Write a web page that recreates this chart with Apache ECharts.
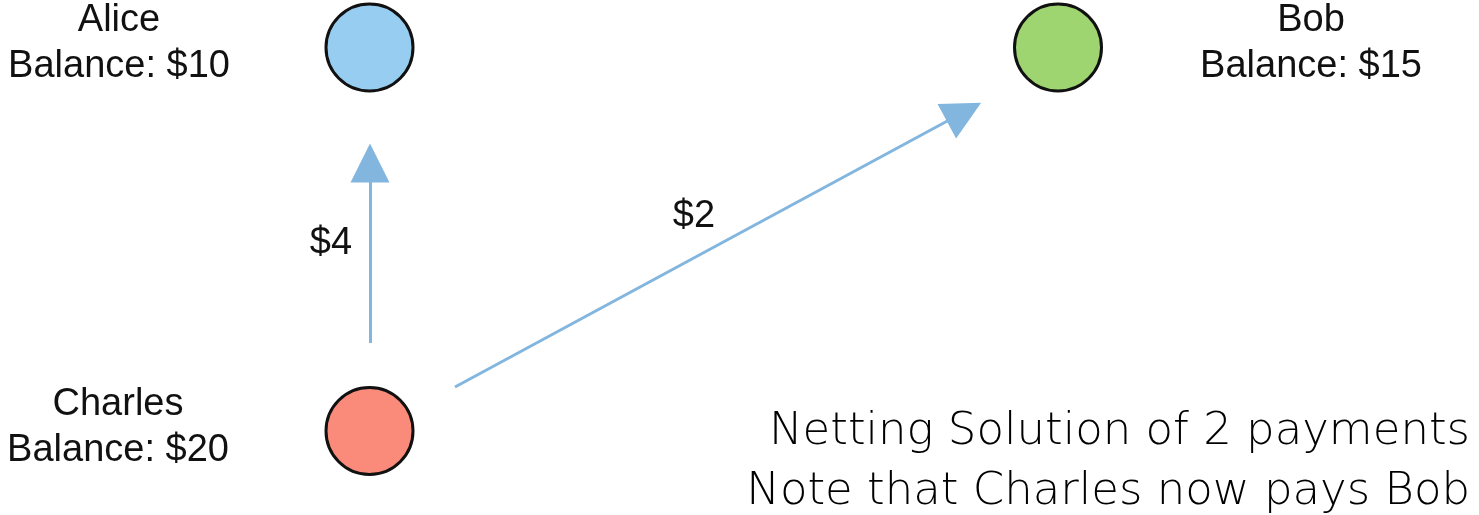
<!DOCTYPE html>
<html>
<head>
<meta charset="utf-8">
<script src="https://cdn.jsdelivr.net/npm/echarts@6/dist/echarts.min.js"></script>
<style>
  html, body { margin: 0; padding: 0; background: #fff; }
  #main { width: 1479px; height: 515px; }
</style>
</head>
<body>
<div id="main"></div>
<script>
// nodes: name, balance, position, fill colour
var nodeNames = ['Alice', 'Bob', 'Charles']
var nodeBalances = [10, 15, 20]
var nodeX = [369.5, 1058, 369.5]
var nodeY = [47.5, 47.5, 431]
var nodeColors = ['#97cdf1', '#9fd571', '#fa8b7b']
// where each node's caption sits
var captionX = [119, 1311, 118]
var captionY = [44, 44, 428]

// payments after netting: tail point, arrow head point, amount, label position
var edgeFrom = [[370, 343], [455, 387]]
var edgeTo = [[370, 163], [964, 112]]
var edgeAmounts = [4, 2]
var edgeLabelPos = [[331, 244], [694, 217]]

var noteLines = ['Netting Solution of 2 payments', 'Note that Charles now pays Bob']

var myChart = echarts.init(document.getElementById('main'))

var option = {
  animation: false,
  grid: { left: 0, right: 0, top: 0, bottom: 0 },
  xAxis: { type: 'value', min: 0, max: 1479, show: false },
  yAxis: { type: 'value', min: 0, max: 515, inverse: true, show: false },
  series: [
    {
      type: 'lines',
      coordinateSystem: 'cartesian2d',
      symbol: ['none', 'path://M12 0L24 39L0 39Z'],
      symbolSize: 39,
      symbolKeepAspect: true,
      lineStyle: { color: '#83b6df', width: 3, opacity: 1 },
      data: edgeFrom.map(function(p, i) {
        return { coords: [p, edgeTo[i]] }
      }),
      z: 1
    },
    {
      type: 'scatter',
      symbol: 'circle',
      symbolSize: 87,
      itemStyle: { borderColor: '#111', borderWidth: 3, opacity: 1 },
      data: nodeNames.map(function(n, i) {
        return { name: n, value: [nodeX[i], nodeY[i]], itemStyle: { color: nodeColors[i] } }
      }),
      z: 3
    },
    {
      type: 'scatter',
      symbolSize: 0,
      itemStyle: { opacity: 1 },
      label: {
        show: true,
        position: 'inside',
        color: '#111',
        fontFamily: 'Liberation Sans',
        fontSize: 38,
        lineHeight: 46,
        align: 'center',
        formatter: function(p) {
          var i = p.dataIndex
          return nodeNames[i] + '\nBalance: $' + nodeBalances[i]
        }
      },
      data: captionX.map(function(x, i) { return [x, captionY[i]] })
    },
    {
      type: 'scatter',
      symbolSize: 0,
      itemStyle: { opacity: 1 },
      label: {
        show: true,
        position: 'inside',
        color: '#111',
        fontFamily: 'Liberation Sans',
        fontSize: 38,
        formatter: function(p) { return '$' + edgeAmounts[p.dataIndex] }
      },
      data: edgeLabelPos
    }
  ],
  graphic: [
    {
      type: 'text',
      right: 9,
      top: 402,
      style: {
        text: noteLines.join('\n'),
        font: '200 45px "DejaVu Sans"',
        fill: '#000',
        textAlign: 'right',
        lineHeight: 60
      }
    }
  ]
}

myChart.setOption(option)
</script>
</body>
</html>
